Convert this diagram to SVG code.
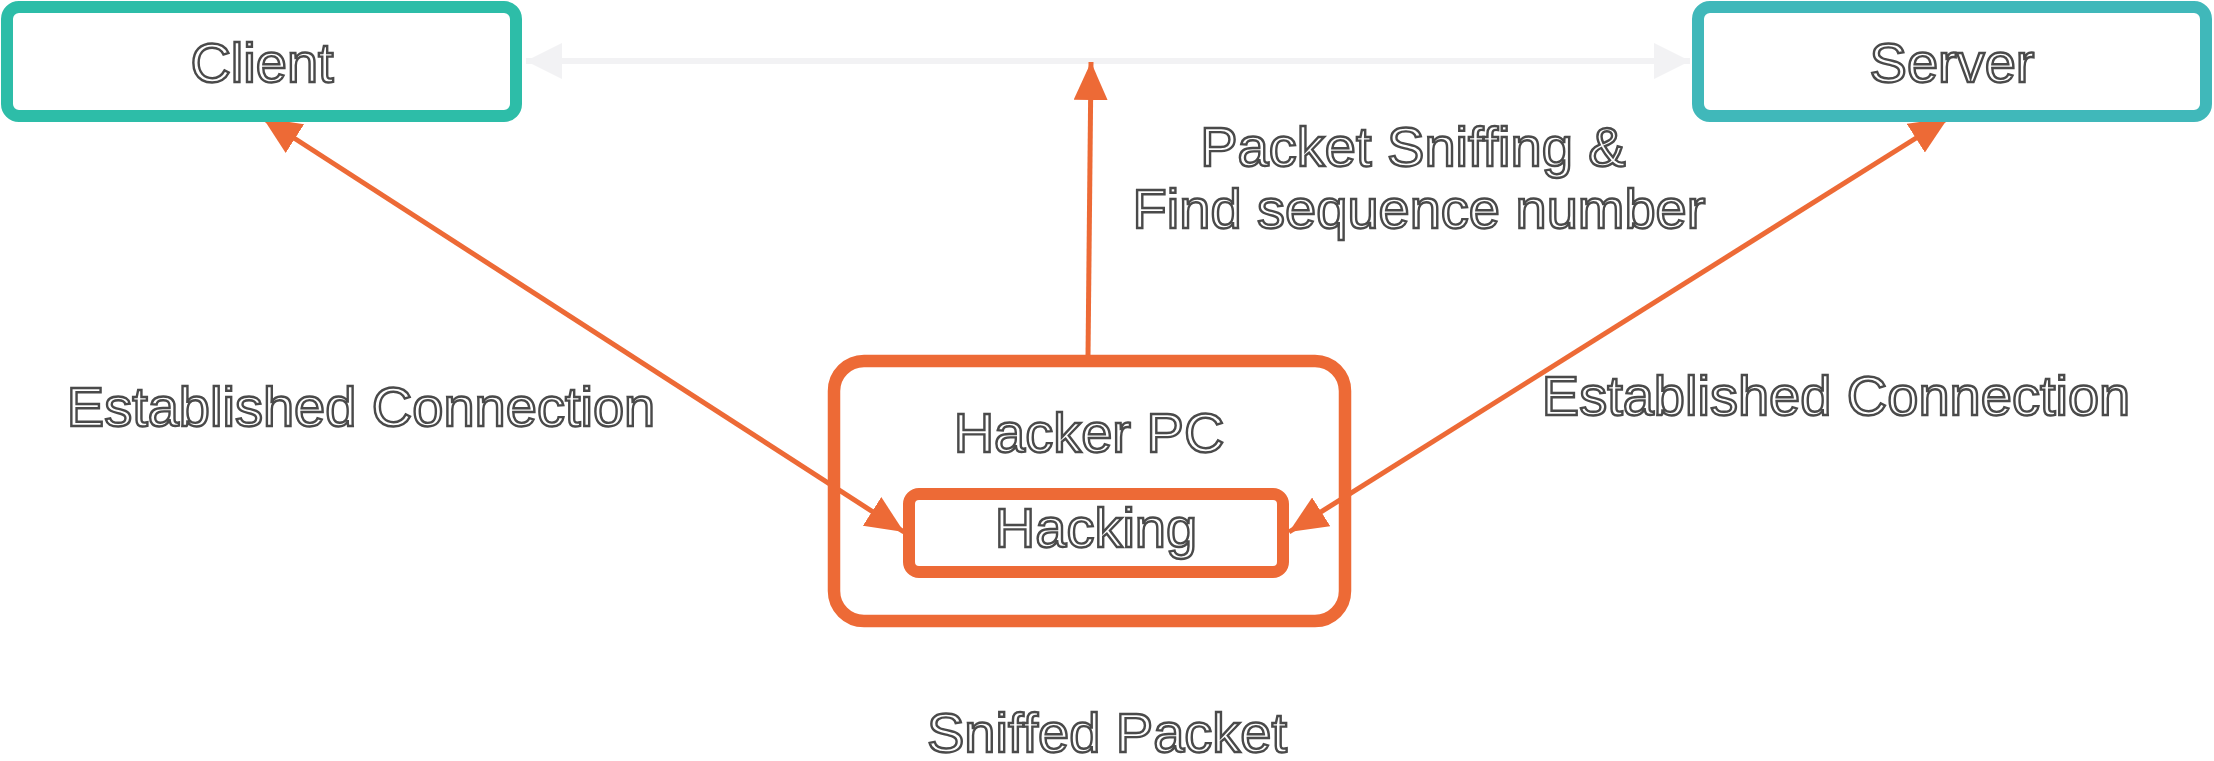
<svg xmlns="http://www.w3.org/2000/svg" width="2214" height="761" viewBox="0 0 2214 761">
<defs>
<style>
.t{font-family:"Liberation Sans",Arial,sans-serif;font-size:56px;fill:#ffffff;stroke:#4a4a4a;stroke-width:2.4;text-anchor:middle}
.o{stroke:#ED6A36;fill:none}
</style>
<marker id="ao" markerUnits="userSpaceOnUse" markerWidth="40" markerHeight="36" refX="38" refY="17" orient="auto-start-reverse"><path d="M0,0 L38,17 L0,34 z" fill="#ED6A36"/></marker>
<marker id="ag" markerUnits="userSpaceOnUse" markerWidth="40" markerHeight="38" refX="36" refY="18" orient="auto-start-reverse"><path d="M0,0 L36,18 L0,36 z" fill="#F2F2F4"/></marker>
</defs>
<rect width="2214" height="761" fill="#ffffff"/>
<g id="connectors">
<line x1="526" y1="61" x2="1690" y2="61" stroke="#F2F2F4" stroke-width="6" marker-start="url(#ag)" marker-end="url(#ag)"/>
<line x1="1088" y1="357" x2="1091" y2="62" class="o" stroke-width="5" marker-end="url(#ao)"/>
<line x1="263" y1="118" x2="904" y2="532" class="o" stroke-width="5" marker-start="url(#ao)" marker-end="url(#ao)"/>
<line x1="1948" y1="118" x2="1289" y2="532" class="o" stroke-width="5" marker-start="url(#ao)" marker-end="url(#ao)"/>
</g>
<g id="client">
<rect x="7" y="7" width="509" height="109" rx="12" fill="#ffffff" stroke="#2DBDA8" stroke-width="12"/>
<text class="t" x="262" y="82">Client</text>
</g>
<g id="server">
<rect x="1698" y="7" width="508" height="109" rx="12" fill="#ffffff" stroke="#40B8BA" stroke-width="12"/>
<text class="t" x="1952" y="82">Server</text>
</g>
<g id="hacker-pc">
<rect x="834" y="361" width="511" height="260" rx="30" fill="none" stroke="#ED6A36" stroke-width="12.5"/>
<text class="t" x="1089" y="452">Hacker PC</text>
</g>
<g id="hacking">
<rect x="909" y="494" width="374" height="78" rx="10" fill="#ffffff" stroke="#ED6A36" stroke-width="12"/>
<text class="t" x="1096" y="547">Hacking</text>
</g>
<g id="labels">
<text class="t" x="1413" y="166">Packet Sniffing &amp;</text>
<text class="t" x="1419" y="228">Find sequence number</text>
<text class="t" x="361" y="426">Established Connection</text>
<text class="t" x="1836" y="415">Established Connection</text>
<text class="t" x="1107" y="752">Sniffed Packet</text>
</g>
</svg>
